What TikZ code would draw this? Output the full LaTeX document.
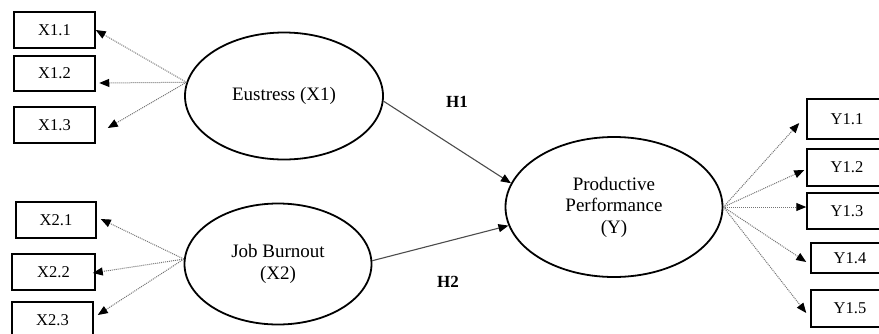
\documentclass[tikz,border=0pt]{standalone}
\usepackage{fontspec}
\setmainfont{Liberation Serif}
\usetikzlibrary{shapes.geometric,arrows.meta,calc}
\begin{document}
\begin{tikzpicture}[x=1pt,y=-1pt,
 box/.style={draw,line width=1.5pt,inner sep=0pt,font=\fontsize{16.5}{18}\selectfont},
 lat/.style={draw,ellipse,line width=1.8pt,inner sep=0pt,align=center,font=\fontsize{19}{21.5}\selectfont},
 ind/.style={draw=black!55,line width=1pt,densely dotted,-{Triangle[length=10pt,width=8pt,black]}},
 hpath/.style={draw=black!70,line width=1.1pt,-{Triangle[length=10pt,width=8pt,black]}},
 hyp/.style={font=\bfseries\fontsize{17}{18}\selectfont}]
\useasboundingbox (0,0) rectangle (879,333);
% indicator boxes left
\node[box,minimum width=81pt,minimum height=36pt] (X11) at (54.5,30) {X1.1};
\node[box,minimum width=81pt,minimum height=35pt] (X12) at (54.5,73.5) {X1.2};
\node[box,minimum width=81pt,minimum height=36pt] (X13) at (54.5,125) {X1.3};
\node[box,minimum width=80pt,minimum height=36pt] (X21) at (56,220) {X2.1};
\node[box,minimum width=83pt,minimum height=36pt] (X22) at (53.5,272) {X2.2};
\node[box,minimum width=81pt,minimum height=36pt] (X23) at (52.5,320) {X2.3};
% indicator boxes right
\node[box,minimum width=80pt,minimum height=40pt] (Y11) at (847,119) {Y1.1};
\node[box,minimum width=80pt,minimum height=37pt] (Y12) at (847,167.5) {Y1.2};
\node[box,minimum width=80pt,minimum height=36pt] (Y13) at (847,211) {Y1.3};
\node[box,minimum width=78pt,minimum height=30pt] (Y14) at (850,258) {Y1.4};
\node[box,minimum width=78pt,minimum height=37pt] (Y15) at (850,308.5) {Y1.5};
% latent variables
\node[lat,minimum width=198pt,minimum height=127pt] (E) at (284,96) {Eustress (X1)};
\node[lat,minimum width=187pt,minimum height=121pt] (J) at (278,264) {Job Burnout\\(X2)};
\node[lat,minimum width=217pt,minimum height=140pt] (P) at (614,207) {Productive\\Performance\\(Y)};
% indicator arrows
\draw[ind] (E.172) -- (X11.east);
\draw[ind] (E.172) -- ([xshift=3.5pt,yshift=-9.5pt]X12.east);
\draw[ind] (E.172) -- ([xshift=12pt,yshift=-3pt]X13.east);
\draw[ind] (J.177) -- ([xshift=4pt,yshift=1pt]X21.east);
\draw[ind] (J.177) -- ([xshift=-3pt,yshift=-1pt]X22.east);
\draw[ind] (J.177) -- ([xshift=4pt,yshift=5pt]X23.east);
\draw[ind] (P.east) -- ([xshift=-7pt,yshift=-4pt]Y11.west);
\draw[ind] (P.east) -- ([xshift=-2pt,yshift=-2.5pt]Y12.west);
\draw[ind] (P.east) -- ([yshift=4pt]Y13.west);
\draw[ind] (P.east) -- ([xshift=-4pt,yshift=-4pt]Y14.west);
\draw[ind] (P.east) -- ([xshift=-4pt,yshift=-4.5pt]Y15.west);
% hypotheses
\draw[hpath] (E.-3) -- (P.167);
\draw[hpath] (J.2) -- (P.190);
\node[hyp] (H1) at (457,102) {H1};
\node[hyp] (H2) at (448,282) {H2};
\end{tikzpicture}
\end{document}
